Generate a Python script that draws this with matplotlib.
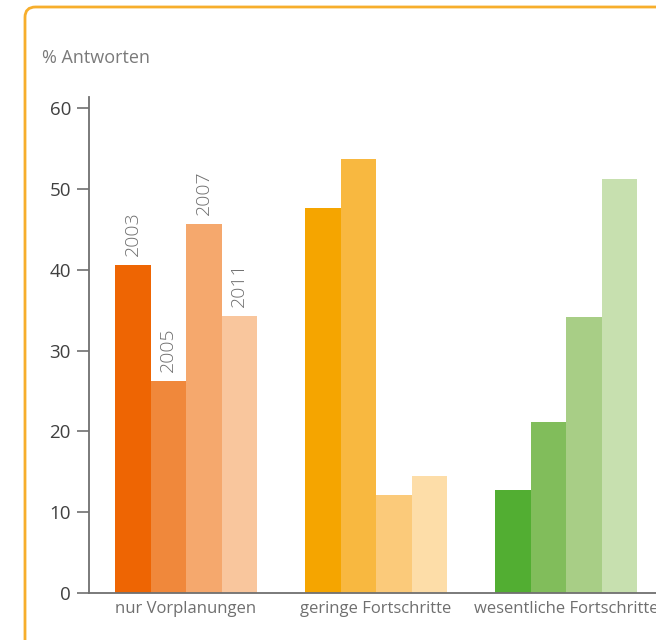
import matplotlib
matplotlib.use("Agg")
import matplotlib.pyplot as plt
from matplotlib.patches import FancyBboxPatch
import numpy as np

plt.rcParams['font.family'] = ['Open Sans', 'DejaVu Sans']

categories = ["nur Vorplanungen", "geringe Fortschritte", "wesentliche Fortschritte"]
years = ["2003", "2005", "2007", "2011"]
values = {
    "2003": [40.6, 47.6, 12.7],
    "2005": [26.2, 53.7, 21.2],
    "2007": [45.7, 12.1, 34.2],
    "2011": [34.3, 14.5, 51.2],
}
colors = [
    ["#EE6503", "#F0883B", "#F5A86D", "#F9C69D"],
    ["#F5A500", "#F8B840", "#FBCA7A", "#FDDDA8"],
    ["#52AE32", "#81BD5B", "#A8CE86", "#C7E0AF"],
]
yticks = [0, 10, 20, 30, 40, 50, 60]

W, H = 656, 640
fig = plt.figure(figsize=(W / 100, H / 100), dpi=100)

# rounded orange frame (extends beyond right/bottom)
frame = FancyBboxPatch((25 / W, (H - 700) / H), 700 / W, (700 - 7) / H,
                       boxstyle="round,pad=0,rounding_size=0.016",
                       transform=fig.transFigure, fill=False,
                       edgecolor="#F7AE2C", linewidth=2, zorder=0)
fig.patches.append(frame)

left_px, right_px = 89, 720
bottom_px, top_px = 593, 97
ax = fig.add_axes([left_px / W, 1 - bottom_px / H,
                   (right_px - left_px) / W, (bottom_px - top_px) / H])

group_px = 190.0
bar_w = 35.5 / group_px
x0 = -(186 - left_px) / group_px
x1 = x0 + (right_px - left_px) / group_px
ax.set_xlim(x0, x1)
ax.set_ylim(0, 60 * (bottom_px - top_px) / (bottom_px - 108))

x = np.arange(len(categories))
for j, yr in enumerate(years):
    offs = (j - 1.5) * bar_w
    for i in range(len(categories)):
        ax.bar(x[i] + offs, values[yr][i], width=bar_w, color=colors[i][j],
               edgecolor="none", linewidth=0, zorder=2)
        if i == 0:
            ax.text(x[i] + offs, values[yr][i] + 1.1, yr, rotation=90,
                    ha="center", va="bottom", fontsize=14, color="#6F6F6F",
                    fontweight="light")

for s in ["top", "right"]:
    ax.spines[s].set_visible(False)
for s in ["left", "bottom"]:
    ax.spines[s].set_color("#707070")
    ax.spines[s].set_linewidth(1.3)

ax.set_yticks(yticks)
ax.set_yticklabels([str(t) for t in yticks], fontsize=13.5, color="#404040")
ax.tick_params(axis="y", length=9, width=1.2, color="#707070", pad=4)
ax.set_xticks(x)
ax.set_xticklabels(categories, fontsize=12, color="#6F6F6F")
ax.tick_params(axis="x", length=0, pad=6)

fig.text(42 / W, 1 - 58 / H, "% Antworten", fontsize=13, color="#7A7A7A",
         ha="left", va="center")

fig.savefig("out.png", dpi=100)
